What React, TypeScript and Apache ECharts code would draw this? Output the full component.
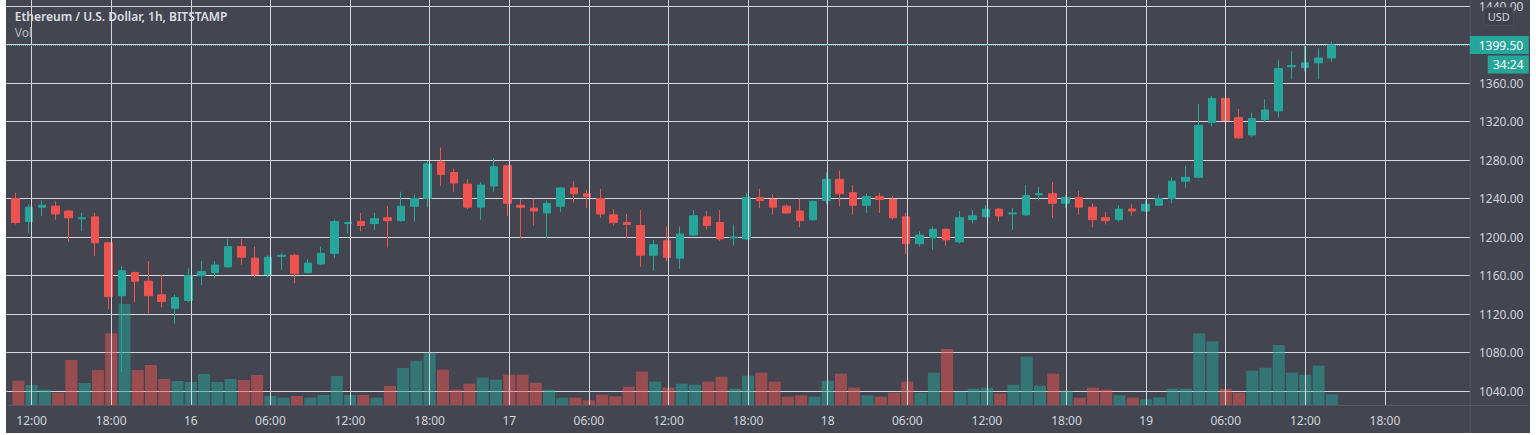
import React, { useEffect, useRef } from "react";
import * as echarts from "echarts";

// Hours are counted from 00:00 on the 15th; the first candle is 11:00 on the 15th.
const FIRST_HOUR = 11;

const OPEN = [
  1240, 1216, 1231, 1232, 1227, 1219, 1221, 1194, 1139, 1163,
  1154, 1140, 1126, 1134, 1160, 1163, 1169, 1190, 1178, 1161,
  1180, 1181, 1163, 1172, 1183, 1214, 1216, 1214, 1220, 1217,
  1232, 1240, 1278, 1267, 1255, 1231, 1253, 1274, 1233, 1230,
  1225, 1232, 1251, 1245, 1240, 1223, 1215, 1212, 1181, 1196,
  1178, 1202, 1221, 1215, 1199, 1198, 1241, 1239, 1232, 1227,
  1218, 1238, 1260, 1246, 1233, 1242, 1239, 1221, 1193, 1199,
  1208, 1195, 1218, 1221, 1229, 1224, 1223, 1244, 1245, 1235,
  1241, 1231, 1220, 1218, 1229, 1227, 1233, 1240, 1258, 1262,
  1319, 1344, 1324, 1306, 1322, 1331, 1377, 1376, 1381, 1386,
];
const CLOSE = [
  1215, 1231, 1233, 1224, 1220, 1220, 1194, 1138, 1165, 1154,
  1139, 1133, 1137, 1160, 1164, 1171, 1190, 1179, 1161, 1179,
  1181, 1162, 1173, 1183, 1216, 1215, 1212, 1219, 1217, 1232,
  1240, 1276, 1265, 1256, 1231, 1254, 1273, 1235, 1231, 1227,
  1235, 1251, 1245, 1242, 1224, 1215, 1213, 1181, 1192, 1179,
  1203, 1222, 1212, 1198, 1200, 1241, 1238, 1231, 1225, 1217,
  1237, 1260, 1245, 1233, 1242, 1239, 1220, 1193, 1202, 1208,
  1197, 1220, 1222, 1229, 1222, 1225, 1243, 1245, 1235, 1241,
  1231, 1218, 1217, 1229, 1227, 1234, 1240, 1258, 1262, 1316,
  1344, 1321, 1303, 1323, 1332, 1375, 1378, 1381, 1386, 1399.5,
];
const LOW = [
  1213, 1204, 1222, 1218, 1195, 1206, 1180, 1125, 1060, 1132,
  1121, 1127, 1110, 1132, 1150, 1157, 1168, 1171, 1158, 1158,
  1166, 1152, 1162, 1171, 1178, 1204, 1206, 1207, 1189, 1216,
  1216, 1231, 1253, 1247, 1229, 1218, 1247, 1222, 1199, 1212,
  1199, 1226, 1236, 1230, 1220, 1212, 1199, 1169, 1165, 1175,
  1167, 1201, 1208, 1196, 1191, 1197, 1230, 1223, 1224, 1210,
  1217, 1234, 1232, 1223, 1225, 1225, 1218, 1182, 1190, 1187,
  1191, 1193, 1214, 1220, 1216, 1207, 1222, 1238, 1220, 1230,
  1223, 1210, 1213, 1216, 1222, 1226, 1232, 1235, 1251, 1261,
  1315, 1318, 1302, 1304, 1319, 1324, 1364, 1372, 1364, 1382,
];
const HIGH = [
  1246, 1234, 1238, 1237, 1228, 1225, 1225, 1195, 1170, 1164,
  1175, 1161, 1140, 1168, 1175, 1175, 1198, 1198, 1190, 1181,
  1183, 1183, 1177, 1190, 1218, 1216, 1225, 1225, 1232, 1247,
  1244, 1279, 1293, 1271, 1260, 1257, 1282, 1275, 1239, 1240,
  1238, 1252, 1258, 1249, 1250, 1229, 1224, 1228, 1197, 1211,
  1211, 1228, 1227, 1228, 1213, 1246, 1250, 1244, 1234, 1240,
  1238, 1267, 1269, 1254, 1245, 1246, 1243, 1225, 1206, 1211,
  1209, 1227, 1228, 1233, 1230, 1230, 1254, 1252, 1257, 1244,
  1248, 1235, 1226, 1233, 1234, 1238, 1244, 1262, 1274, 1338,
  1346, 1348, 1333, 1329, 1343, 1384, 1393, 1399, 1396, 1403,
];
const VOLUME = [
  2430, 2000, 1530, 1230, 4500, 2200, 3500, 7170, 10100, 3500,
  4000, 2600, 2400, 2300, 3100, 2300, 2600, 2500, 3000, 900,
  730, 900, 730, 1000, 2900, 1000, 1000, 730, 1900, 3700,
  4430, 5230, 3530, 1530, 2130, 2730, 2530, 3030, 3030, 2230,
  1530, 730, 730, 470, 1030, 870, 1830, 3330, 2330, 1730,
  2130, 2030, 2330, 2830, 1630, 2930, 3230, 2330, 830, 970,
  830, 2430, 3130, 1730, 970, 830, 1230, 2330, 1230, 3230,
  5600, 1330, 1630, 1730, 1130, 2030, 4830, 1930, 3130, 1430,
  730, 1730, 1530, 970, 730, 570, 770, 1630, 1630, 7170,
  6370, 1630, 1230, 3430, 3730, 6000, 3230, 3030, 3930, 1070,
];

const TICK_HOURS = [12, 18, 24, 30, 36, 42, 48, 54, 60, 66, 72, 78, 84, 90, 96, 102, 108, 114];
const TICK_LABELS = [
  "12:00", "18:00", "16", "06:00", "12:00", "18:00", "17", "06:00", "12:00",
  "18:00", "18", "06:00", "12:00", "18:00", "19", "06:00", "12:00", "18:00",
];

const PRICE_MIN = 1040;
const PRICE_MAX = 1440;
const PRICE_STEP = 40;
const LAST_PRICE = 1399.5;
const COUNTDOWN = "34:24";
const TITLE = "Ethereum / U.S. Dollar, 1h, BITSTAMP";
const VOL_LABEL = "Vol";
const CURRENCY = "USD";

// layout / style
// The chart div starts left of the page so that the x axis can begin at hour 6
// (a multiple of the 6-hour interval); a white strip covers the page's left edge.
const DIV_LEFT = -50.75;
const W = 1580.75;
const H = 433;
const X_MIN = 6;
const X_MAX = 120.41;
const GRID_RIGHT = 60;
const BG = "#434651";
const GRID = "#d6d7dc";
const UP = "#26a69a";
const DOWN = "#ef5350";
const UP_VOL = "rgba(38,166,154,0.5)";
const DOWN_VOL = "rgba(239,83,80,0.5)";
const TEXT = "#d1d4dc";
const BORDER = "#555864";
const FONT = "Noto Sans";

export default function App() {
  const ref = useRef<HTMLDivElement>(null);

  useEffect(() => {
    if (!ref.current) return;
    const chart = echarts.init(ref.current, undefined, { renderer: "svg" });

    const candleData = OPEN.map((o, i) => [FIRST_HOUR + i, o, CLOSE[i], LOW[i], HIGH[i]]);
    const volData = VOLUME.map((v, i) => ({
      value: [FIRST_HOUR + i, v],
      itemStyle: { color: CLOSE[i] >= OPEN[i] ? UP_VOL : DOWN_VOL },
    }));

    const rightX = W - GRID_RIGHT;
    const pageX = (x: number) => x - DIV_LEFT; // page x -> div x

    chart.setOption({
      animation: false,
      backgroundColor: BG,
      textStyle: { fontFamily: FONT },
      grid: [
        { left: 0, right: GRID_RIGHT, top: 5, bottom: 42 },
        { left: 0, right: GRID_RIGHT, top: 0, bottom: 28 },
      ],
      xAxis: [
        { type: "value", gridIndex: 0, min: X_MIN, max: X_MAX, interval: 6, show: false },
        {
          type: "value",
          gridIndex: 1,
          min: X_MIN,
          max: X_MAX,
          interval: 6,
          axisLine: { show: false },
          axisTick: { show: false },
          splitLine: { show: false },
          axisLabel: {
            color: TEXT,
            fontSize: 12,
            fontFamily: FONT,
            margin: 9,
            formatter: (v: number) => {
              const k = TICK_HOURS.indexOf(v);
              return k >= 0 ? TICK_LABELS[k] : "";
            },
          },
        },
      ],
      yAxis: [
        {
          type: "value",
          gridIndex: 0,
          position: "right",
          min: PRICE_MIN,
          max: PRICE_MAX,
          interval: PRICE_STEP,
          axisLine: { show: false },
          axisTick: { show: false },
          splitLine: { show: true, lineStyle: { color: GRID, width: 1 } },
          axisLabel: {
            color: TEXT,
            fontSize: 12,
            fontFamily: FONT,
            margin: 9,
            formatter: (v: number) => v.toFixed(2),
          },
        },
        { type: "value", gridIndex: 1, min: 0, max: 40500, show: false },
      ],
      series: [
        {
          type: "bar",
          xAxisIndex: 1,
          yAxisIndex: 1,
          barWidth: 12,
          data: volData,
          silent: true,
          markLine: {
            silent: true,
            symbol: ["none", "none"],
            label: { show: false },
            lineStyle: { color: GRID, width: 1, type: "solid" },
            data: TICK_HOURS.map((h) => ({ xAxis: h })),
          },
        },
        {
          type: "candlestick",
          xAxisIndex: 0,
          yAxisIndex: 0,
          barWidth: 8,
          encode: { x: 0, y: [1, 2, 3, 4] },
          data: candleData,
          itemStyle: {
            color: UP,
            color0: DOWN,
            borderColor: UP,
            borderColor0: DOWN,
            borderWidth: 1,
          },
          markLine: {
            silent: true,
            symbol: ["none", "none"],
            label: { show: false },
            lineStyle: { color: UP, width: 1, type: [1, 1] },
            data: [{ yAxis: LAST_PRICE }],
          },
        },
      ],
      graphic: [
        {
          type: "text",
          x: pageX(15),
          y: 10,
          z: 10,
          style: { text: TITLE, fill: "#dcdee4", font: `600 12px "${FONT}"` },
        },
        {
          type: "text",
          x: pageX(15),
          y: 26,
          z: 10,
          style: { text: VOL_LABEL, fill: "#b2b5be", font: `12px "${FONT}"` },
        },
        {
          type: "line",
          z: 10,
          shape: { x1: rightX + 0.5, y1: 0, x2: rightX + 0.5, y2: H },
          style: { stroke: BORDER, lineWidth: 1 },
        },
        {
          type: "line",
          z: 10,
          shape: { x1: 0, y1: 405.5, x2: W, y2: 405.5 },
          style: { stroke: BORDER, lineWidth: 1 },
        },
        {
          type: "rect",
          z: 10,
          shape: { x: rightX + 14, y: 7.5, width: 30, height: 18, r: 3 },
          style: { fill: "#3e404b", stroke: "#50535e", lineWidth: 1 },
        },
        {
          type: "text",
          z: 11,
          x: rightX + 29,
          y: 16.5,
          style: { text: CURRENCY, fill: TEXT, font: `11px "${FONT}"`, align: "center", verticalAlign: "middle" },
        },
        {
          type: "rect",
          z: 10,
          shape: { x: rightX, y: 36, width: 59, height: 18 },
          style: { fill: UP },
        },
        {
          type: "text",
          z: 11,
          x: rightX + 9,
          y: 45,
          style: { text: LAST_PRICE.toFixed(2), fill: "#ffffff", font: `12px "${FONT}"`, align: "left", verticalAlign: "middle" },
        },
        {
          type: "rect",
          z: 10,
          shape: { x: rightX + 18, y: 55.5, width: 41, height: 18 },
          style: { fill: UP },
        },
        {
          type: "text",
          z: 11,
          x: rightX + 38.5,
          y: 64.5,
          style: { text: COUNTDOWN, fill: "#ffffff", font: `12px "${FONT}"`, align: "center", verticalAlign: "middle" },
        },
      ],
    });

    return () => chart.dispose();
  }, []);

  return (
    <>
      <div
        ref={ref}
        style={{ position: "absolute", left: DIV_LEFT, top: 0, width: W, height: H }}
      />
      <div
        style={{ position: "absolute", left: 0, top: 0, width: 6, height: 435, background: "#ffffff" }}
      />
    </>
  );
}
